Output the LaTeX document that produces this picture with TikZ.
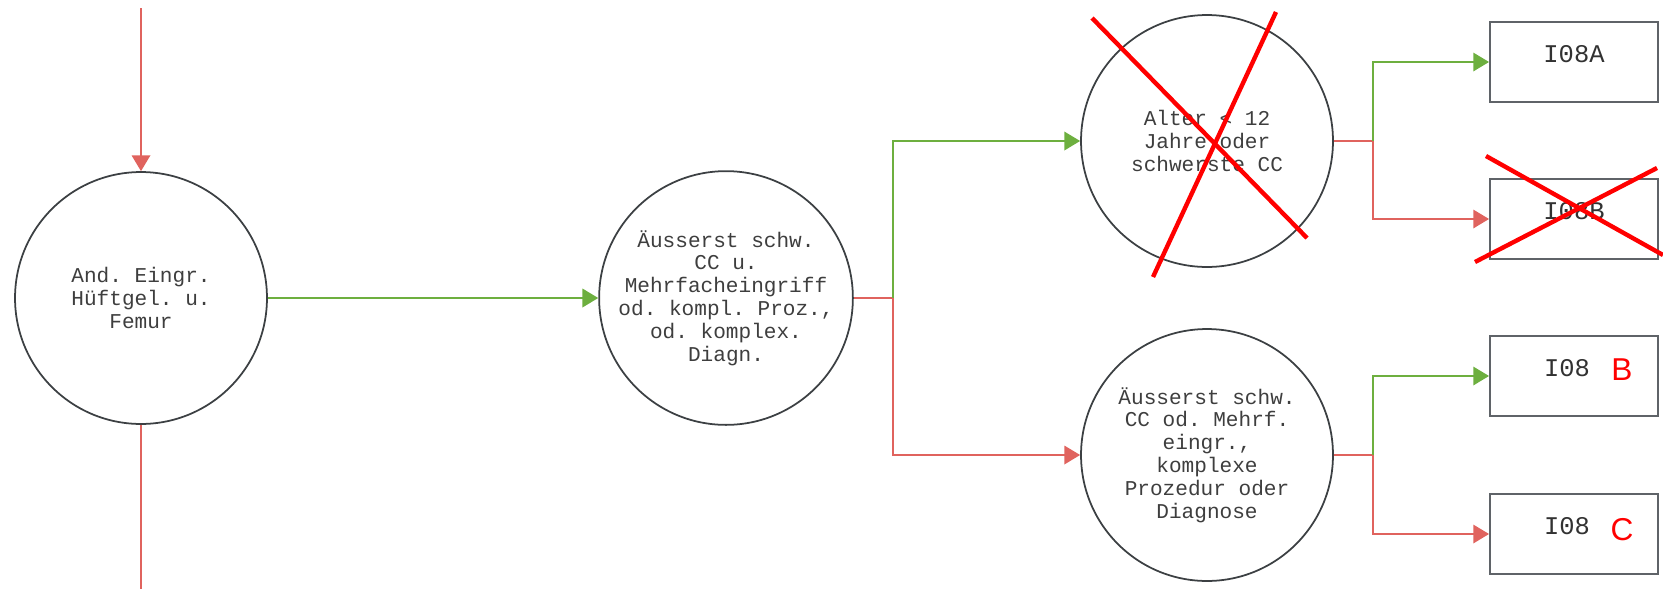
\documentclass[tikz,border=0pt]{standalone}
\usepackage{fontspec}
\setmonofont{Liberation Mono}
\setsansfont{Liberation Sans}
\usetikzlibrary{arrows.meta}
\definecolor{okgreen}{HTML}{6DAF3F}
\definecolor{nored}{HTML}{E0635E}
\definecolor{rim}{HTML}{3C4043}
\definecolor{boxrim}{HTML}{5F6368}
\definecolor{ink}{HTML}{3E3E3E}

\begin{document}
\begin{tikzpicture}[
  x=0.02cm, y=-0.02cm,
  circ/.style={draw=rim, line width=1pt, circle, minimum size=5.04cm,
               inner sep=0pt, align=center, text=ink,
               font=\ttfamily\fontsize{12}{13}\selectfont},
  leaf/.style={draw=boxrim, line width=1.1pt, minimum width=3.36cm,
               minimum height=1.6cm, inner sep=0pt, text=ink!80!black,
               text height=0.3cm, text depth=0.3cm,
               font=\ttfamily\fontsize{14.5}{16}\selectfont},
  yes/.style={draw=okgreen, line width=1.2pt},
  no/.style={draw=nored, line width=1.2pt},
  tip/.style={-{Triangle[length=9pt,width=10.5pt]}},
  cross/.style={draw=red, line width=2.5pt},
  mark letter/.style={text=red, font=\sffamily\fontsize{18}{20}\selectfont,
                      inner sep=0pt},
]
\useasboundingbox (0,0) rectangle (1663,589);

% nodes
\node[circ] (huefte) at (141,298) {And. Eingr.\\Hüftgel. u.\\Femur};
\node[circ] (schwer) at (726,298) {Äusserst schw.\\CC u.\\Mehrfacheingriff\\od. kompl. Proz.,\\od. komplex.\\Diagn.};
\node[circ] (alter) at (1207,141) {Alter < 12\\Jahre oder\\schwerste CC};
\node[circ] (schwerod) at (1207,455) {Äusserst schw.\\ CC od. Mehrf.\\eingr.,\\komplexe\\Prozedur oder\\Diagnose};

\node[leaf] (ia) at (1574,62) {I08A};
\node[leaf] (ib) at (1574,219) {I08B};
\node[leaf] (ib2) at (1574,376) {I08\hspace*{0.28cm}};
\node[leaf] (ic) at (1574,534) {I08\hspace*{0.28cm}};
\node[mark letter] (lb) at (1622,370) {B};
\node[mark letter] (lc) at (1622,530) {C};

% junctions and free ends
\coordinate (top) at (141,8);
\coordinate (bottom) at (141,589);
\coordinate (j1) at (893,298);
\coordinate (j2) at (1373,141);
\coordinate (j3) at (1373,455);

% connectors
\draw[no, tip] (top) -- (huefte.north);
\draw[no] (huefte.south) -- (bottom);
\draw[yes, tip] (huefte.east) -- (schwer.west);

\draw[no] (schwer.east) -- (j1);
\draw[yes, tip] (j1) |- (alter.west);
\draw[no, tip] (j1) |- (schwerod.west);

\draw[no] (alter.east) -- (j2);
\draw[yes, tip] (j2) |- (ia.west);
\draw[no, tip] (j2) |- (ib.west);

\draw[no] (schwerod.east) -- (j3);
\draw[yes, tip] (j3) |- (ib2.west);
\draw[no, tip] (j3) |- (ic.west);

% struck out
\draw[cross] (1092,18) -- (1307,238);
\draw[cross] (1276,12) -- (1153,277);
\draw[cross] (1486,156) -- (1663,255);
\draw[cross] (1475,262) -- (1657,168);
\end{tikzpicture}
\end{document}
